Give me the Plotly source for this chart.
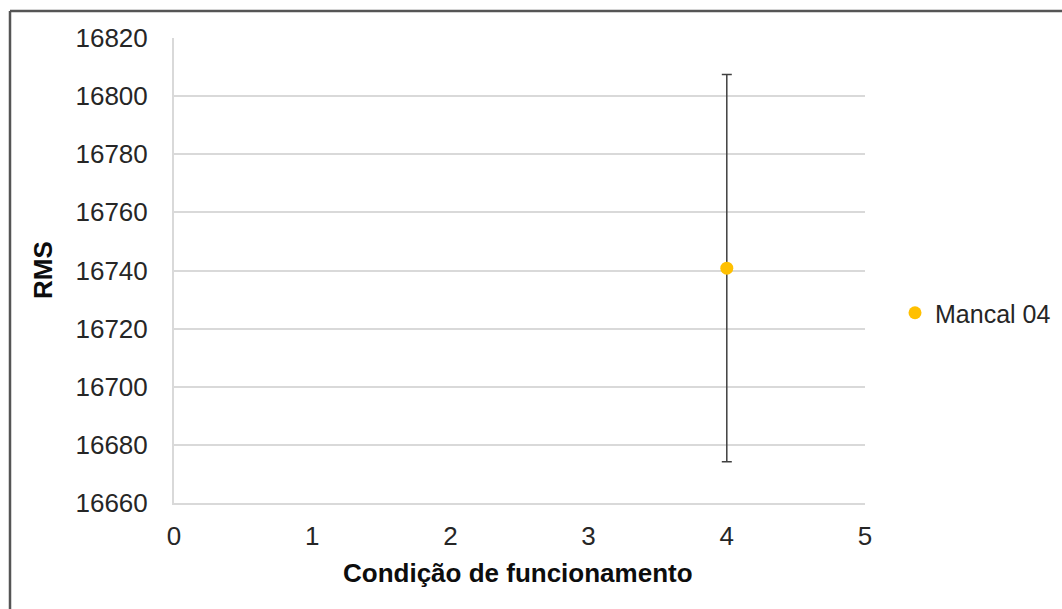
import plotly.graph_objects as go

# Operating condition vs RMS for bearing 04
condicao = [4]
rms = [16740.8]
desvio = [66.6]
serie = "Mancal 04"

W, H = 1062, 609
ML, MR, MT, MB = 174, 197, 38, 106
pw, ph = W - ML - MR, H - MT - MB


def px_x(v):
    return (v - ML) / pw


def px_y(v):
    return (H - MB - v) / ph


fig = go.Figure()
fig.add_trace(go.Scatter(
    x=condicao, y=rms, mode="markers", name=serie,
    marker=dict(color="#FFC000", size=13),
    error_y=dict(type="data", array=desvio, visible=True,
                 color="#404040", thickness=1.5, width=5),
))

font = "Liberation Sans, Arial, sans-serif"
fig.update_layout(
    width=W, height=H,
    margin=dict(l=ML, r=MR, t=MT, b=MB, autoexpand=False),
    paper_bgcolor="white", plot_bgcolor="white",
    font=dict(family=font, size=26, color="#262626"),
    showlegend=True,
    legend=dict(x=px_x(895), y=px_y(313), xanchor="left", yanchor="middle",
                font=dict(size=25, color="#262626"), itemwidth=30,
                bgcolor="rgba(0,0,0,0)"),
    xaxis=dict(range=[0, 5], tickvals=[0, 1, 2, 3, 4, 5], showgrid=False,
               zeroline=False, showline=True, linecolor="#d9d9d9", linewidth=2,
               ticks="", ticklabelstandoff=9, automargin=False,
               tickfont=dict(size=26, color="#262626")),
    yaxis=dict(range=[16660, 16820], tickvals=list(range(16660, 16821, 20)),
               showgrid=True, gridcolor="#d9d9d9", gridwidth=1.5,
               zeroline=False, showline=True, linecolor="#d9d9d9", linewidth=2,
               ticks="", ticklabelstandoff=19, tickformat="d", automargin=False,
               tickfont=dict(size=26, color="#262626")),
    annotations=[
        dict(text="<b>Condição de funcionamento</b>", x=px_x(518), y=px_y(573),
             xref="paper", yref="paper", showarrow=False, xanchor="center",
             yanchor="middle", font=dict(size=26, color="#0d0d0d")),
        dict(text="<b>RMS</b>", x=px_x(43), y=px_y(270), textangle=-90,
             xref="paper", yref="paper", showarrow=False, xanchor="center",
             yanchor="middle", font=dict(size=26, color="#0d0d0d")),
    ],
    shapes=[
        dict(type="line", xref="paper", yref="paper", x0=px_x(10), x1=px_x(1070),
             y0=px_y(11), y1=px_y(11), line=dict(color="#555555", width=2.5)),
        dict(type="line", xref="paper", yref="paper", x0=px_x(10), x1=px_x(10),
             y0=px_y(11), y1=px_y(620), line=dict(color="#555555", width=2.5)),
    ],
)

fig.write_html("out.html")
